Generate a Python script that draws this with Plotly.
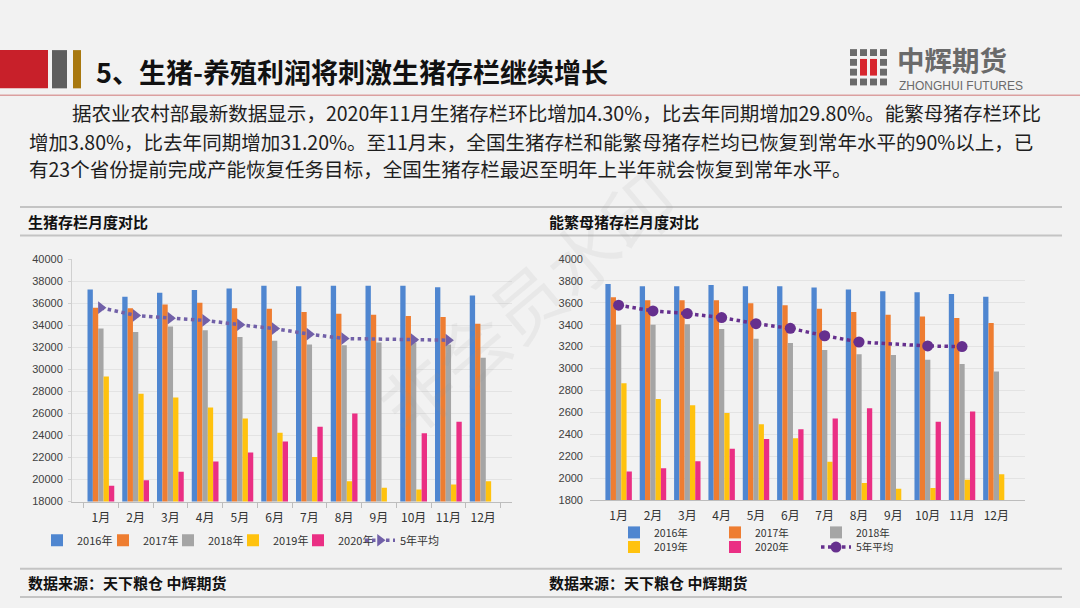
import plotly.graph_objects as go

W, H = 1080, 608

months = ["1月", "2月", "3月", "4月", "5月", "6月", "7月", "8月", "9月", "10月", "11月", "12月"]
years = ["2016年", "2017年", "2018年", "2019年", "2020年"]
avg_name = "5年平均"

# 生猪存栏（万头）
hog_2016 = [37250, 36600, 36950, 37200, 37350, 37600, 37550, 37600, 37600, 37600, 37450, 36700]
hog_2017 = [35600, 35550, 35900, 36050, 35550, 35500, 35200, 35050, 34950, 34850, 34750, 34150]
hog_2018 = [33700, 33400, 33900, 33550, 32950, 32600, 32250, 32200, 32450, 32450, 32250, 31050]
hog_2019 = [29350, 27800, 27450, 26550, 25550, 24250, 22050, 19850, 19250, 19100, 19550, 19850]
hog_2020 = [19450, 19950, 20700, 21650, 22450, 23450, 24800, 26000, None, 24200, 25250, None]
hog_avg = [35600, 34900, 34650, 34450, 34050, 33700, 33200, 32800, None, 32700, 32650, None]

# 能繁母猪存栏（万头）
sow_2016 = [3772, 3750, 3750, 3763, 3750, 3750, 3740, 3720, 3705, 3695, 3680, 3655]
sow_2017 = [3650, 3623, 3623, 3623, 3595, 3578, 3545, 3516, 3490, 3475, 3460, 3415]
sow_2018 = [3400, 3400, 3405, 3360, 3272, 3233, 3170, 3130, 3123, 3080, 3042, 2973]
sow_2019 = [2866, 2723, 2664, 2595, 2491, 2363, 2150, 1955, 1904, 1910, 1985, 2035]
sow_2020 = [2060, 2090, 2155, 2267, 2357, 2446, 2545, 2637, None, 2515, 2607, None]
sow_avg = [3578, 3525, 3501, 3465, 3409, 3367, 3299, 3242, None, 3206, 3200, None]

title_text = "5、生猪-养殖利润将刺激生猪存栏继续增长"
para_lines = [
    "据农业农村部最新数据显示，2020年11月生猪存栏环比增加4.30%，比去年同期增加29.80%。能繁母猪存栏环比",
    "增加3.80%，比去年同期增加31.20%。至11月末，全国生猪存栏和能繁母猪存栏均已恢复到常年水平的90%以上，已",
    "有23个省份提前完成产能恢复任务目标，全国生猪存栏最迟至明年上半年就会恢复到常年水平。",
]
left_title = "生猪存栏月度对比"
right_title = "能繁母猪存栏月度对比"
source_text = "数据来源：天下粮仓 中辉期货"
logo_cn = "中辉期货"
logo_en = "ZHONGHUI FUTURES"
watermark = "非会员水印"

bar_colors = ["#4f86d0", "#ee7d31", "#a5a5a5", "#ffc20e", "#ea2f84"]
CJK = "Noto Sans CJK SC"
BG = "#f2f2f2"


def px(x):
    return x / W


def py(y):
    return 1 - y / H


fig = go.Figure()

hog_series = [hog_2016, hog_2017, hog_2018, hog_2019, hog_2020]
sow_series = [sow_2016, sow_2017, sow_2018, sow_2019, sow_2020]

# chart 1: each legend entry in its own legend box for exact spacing
hog_legends = ["legend", "legend4", "legend5", "legend6", "legend7"]
for name, vals, col, lg in zip(years, hog_series, bar_colors, hog_legends):
    fig.add_trace(go.Bar(x=months, y=vals, name=name, marker=dict(color=col, line=dict(width=0)),
                         xaxis="x", yaxis="y", legend=lg))
fig.add_trace(go.Scatter(x=months, y=hog_avg, name=avg_name, mode="lines+markers", connectgaps=True,
                         line=dict(color="#7160a8", width=3.5, dash="dot"),
                         marker=dict(symbol="triangle-right", size=11, color="#7160a8"),
                         xaxis="x", yaxis="y", legend="legend8"))

for i, (name, vals, col) in enumerate(zip(years, sow_series, bar_colors)):
    fig.add_trace(go.Bar(x=months, y=vals, name=name, marker=dict(color=col, line=dict(width=0)),
                         xaxis="x2", yaxis="y2", legend="legend2" if i < 3 else "legend3"))
fig.add_trace(go.Scatter(x=months, y=sow_avg, name=avg_name, mode="lines+markers", connectgaps=True,
                         line=dict(color="#66308e", width=3.5, dash="dot"),
                         marker=dict(symbol="circle", size=11, color="#66308e"),
                         xaxis="x2", yaxis="y2", legend="legend3"))

axis_font = dict(family="Liberation Sans, Arial, sans-serif", size=11, color="#404040")
month_font = dict(family=CJK, size=12, color="#333333")

shapes = []
# header blocks
shapes.append(dict(type="rect", xref="paper", yref="paper", x0=px(0), x1=px(48), y0=py(84), y1=py(45),
                   fillcolor="#c8202a", line=dict(width=0), layer="above"))
shapes.append(dict(type="rect", xref="paper", yref="paper", x0=px(52), x1=px(67), y0=py(84), y1=py(45),
                   fillcolor="#5e5e5e", line=dict(width=0), layer="above"))
shapes.append(dict(type="rect", xref="paper", yref="paper", x0=px(73), x1=px(81), y0=py(84), y1=py(45),
                   fillcolor="#a8780f", line=dict(width=0), layer="above"))
shapes.append(dict(type="line", xref="paper", yref="paper", x0=0, x1=1, y0=py(91), y1=py(91),
                   line=dict(color="#dba0a0", width=1.5)))
# logo squares
for r in range(4):
    for c in range(4):
        x0 = 850 + c * 10
        y0 = 44 + r * 10
        if (c in (1, 2)) and (r in (1, 2)):
            continue
        shapes.append(dict(type="rect", xref="paper", yref="paper", x0=px(x0), x1=px(x0 + 7),
                           y0=py(y0 + 7), y1=py(y0), fillcolor="#6a6a6a", line=dict(width=0)))
for c in (1, 2):
    x0 = 850 + c * 10
    shapes.append(dict(type="rect", xref="paper", yref="paper", x0=px(x0), x1=px(x0 + 7),
                       y0=py(71), y1=py(54), fillcolor="#d7262e", line=dict(width=0)))
# section separators
for yy in (205, 234, 574, 603):
    shapes.append(dict(type="line", xref="paper", yref="paper", x0=px(20), x1=px(1062), y0=py(yy), y1=py(yy),
                       line=dict(color="#c4c4c4", width=2)))

annotations = []
annotations.append(dict(text=watermark, x=px(525), y=py(300), xref="paper", yref="paper", showarrow=False,
                        textangle=-40, font=dict(family=CJK, size=72, color="rgba(150,150,150,0.10)")))
annotations.append(dict(text="<b>" + title_text + "</b>", x=px(94), y=py(67), xref="paper", yref="paper",
                        xanchor="left", yanchor="middle", showarrow=False,
                        font=dict(family=CJK, size=27, color="#111111")))
annotations.append(dict(text="<b>" + logo_cn + "</b>", x=px(895), y=py(54), xref="paper", yref="paper",
                        xanchor="left", yanchor="middle", showarrow=False,
                        font=dict(family=CJK, size=27.5, color="#6a6a6a")))
annotations.append(dict(text=logo_en, x=px(897), y=py(82), xref="paper", yref="paper",
                        xanchor="left", yanchor="middle", showarrow=False,
                        font=dict(family="Liberation Sans, Arial, sans-serif", size=12, color="#6a6a6a")))
for (tx, ty), line in zip([(70, 109), (27, 138), (27, 166)], para_lines):
    annotations.append(dict(text=line, x=px(tx), y=py(ty), xref="paper", yref="paper",
                            xanchor="left", yanchor="middle", showarrow=False,
                            font=dict(family=CJK, size=19.55, color="#1e1e1e")))
for tx, t in ((26, left_title), (547, right_title)):
    annotations.append(dict(text="<b>" + t + "</b>", x=px(tx), y=py(220), xref="paper", yref="paper",
                            xanchor="left", yanchor="middle", showarrow=False,
                            font=dict(family=CJK, size=15, color="#111111")))
for tx in (26, 547):
    annotations.append(dict(text="<b>" + source_text + "</b>", x=px(tx), y=py(588), xref="paper", yref="paper",
                            xanchor="left", yanchor="middle", showarrow=False,
                            font=dict(family=CJK, size=15, color="#111111")))

legend_common = dict(orientation="h", xanchor="left", yanchor="middle", bgcolor="rgba(0,0,0,0)",
                     font=dict(family=CJK, size=11, color="#333333"), itemwidth=30,
                     tracegroupgap=0, traceorder="normal")
legend2_common = dict(legend_common, font=dict(family=CJK, size=10.5, color="#333333"))

legend_layout = {}
for lg, lx in zip(hog_legends + ["legend8"], [37, 103, 168, 233, 298, 360]):
    legend_layout[lg] = dict(**legend_common, x=px(lx), y=py(545))
legend_layout["legend2"] = dict(**legend2_common, x=px(614), y=py(537), entrywidth=56, entrywidthmode="pixels")
legend_layout["legend3"] = dict(**legend2_common, x=px(614), y=py(552), entrywidth=56, entrywidthmode="pixels")

fig.update_layout(
    width=W, height=H, margin=dict(l=0, r=0, t=0, b=0),
    paper_bgcolor=BG, plot_bgcolor=BG,
    barmode="group", bargap=0.23, bargroupgap=0,
    showlegend=True,
    shapes=shapes, annotations=annotations,
    xaxis=dict(domain=[px(72), px(512)], anchor="y", type="category", categoryorder="array",
               categoryarray=months, showline=True, linecolor="#bdbdbd", linewidth=1,
               ticks="outside", tickson="boundaries", ticklen=5, tickcolor="#bdbdbd",
               tickfont=month_font, tickangle=0, showgrid=False, ticklabelstandoff=5),
    yaxis=dict(domain=[py(505.6), py(258.3)], anchor="x", range=[18000, 40000], dtick=2000,
               tickformat="d",
               showline=True, linecolor="#d0d0d0", ticks="outside", ticklen=3, tickcolor="#d0d0d0",
               gridcolor="#e3e3e3", gridwidth=1, zeroline=False, tickfont=axis_font, ticklabelstandoff=3),
    xaxis2=dict(domain=[px(590), px(1025)], anchor="y2", type="category", categoryorder="array",
                categoryarray=months, showline=True, linecolor="#bdbdbd", linewidth=1,
                ticks="", tickfont=month_font, tickangle=0, showgrid=False, ticklabelstandoff=5),
    yaxis2=dict(domain=[py(504), py(258)], anchor="x2", range=[1800, 4000], dtick=200,
                tickformat="d",
                showline=False, ticks="", gridcolor="#e3e3e3", gridwidth=1, zeroline=False,
                tickfont=axis_font, ticklabelstandoff=6),
    **legend_layout,
)

fig.write_html("out.html", config={"displayModeBar": False},
               post_script="document.body.style.margin='0';document.body.style.background='" + BG + "';")
